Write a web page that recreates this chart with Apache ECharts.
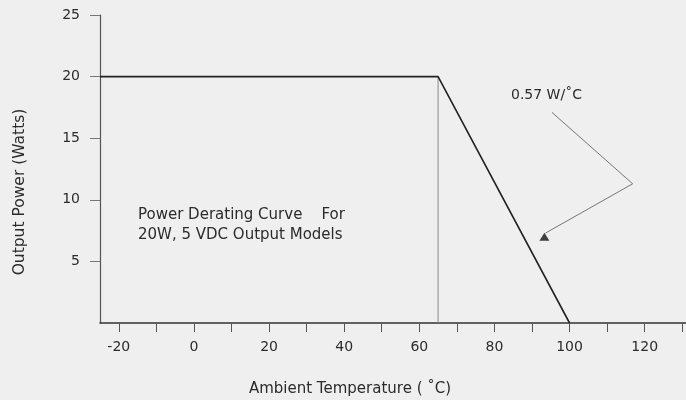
<!DOCTYPE html>
<html>
<head>
<meta charset="utf-8">
<script src="https://cdn.jsdelivr.net/npm/echarts@6/dist/echarts.min.js"></script>
<style>
html,body{margin:0;padding:0;background:#efefef;}
#chart{width:686px;height:400px;}
</style>
</head>
<body>
<div id="chart"></div>
<script>
// Derating curve (ambient temperature °C, output power W)
const curveTemp = [-25, 65, 100];
const curvePower = [20, 20, 0];
// Vertical marker at the derating knee
const kneeTemp = [65, 65];
const kneePower = [0, 20];
// Leader line for the slope annotation
const leaderTemp = [95.3, 116.8, 93.6];
const leaderPower = [17.1, 11.3, 7.3];
const arrowTip = [93.3, 7.0];
// Axis ticks and labels
const xLabelValues = [-20, 0, 20, 40, 60, 80, 100, 120];
const xTickValues = [-20, -10, 0, 10, 20, 30, 40, 50, 60, 70, 80, 90, 100, 110, 120, 130];
const yValues = [5, 10, 15, 20, 25];
// Texts
const xTitle = 'Ambient Temperature ( \u02DAC)';
const yTitle = 'Output Power (Watts)';
const slopeText = '0.57 W/\u02DAC';
const noteLines = ['Power Derating Curve    For', '20W, 5 VDC Output Models'];

const FONT = 'DejaVu Sans';
const TXT = '#2b2b2b';

const zip = (a, b) => a.map((v, i) => [v, b[i]]);

const chart = echarts.init(document.getElementById('chart'), null, {renderer: 'canvas'});
chart.setOption({
  backgroundColor: '#efefef',
  animation: false,
  grid: {left: 100, right: 0, top: 15, bottom: 77, containLabel: false},
  xAxis: {
    type: 'value', min: -25, max: 131,
    axisLine: {show: true, onZero: false, lineStyle: {color: '#333', width: 1.5}},
    axisTick: {show: true, length: 9, customValues: xTickValues, lineStyle: {color: '#555', width: 1}},
    axisLabel: {customValues: xLabelValues, margin: 17, fontFamily: FONT, fontSize: 14, color: TXT},
    splitLine: {show: false}
  },
  yAxis: {
    type: 'value', min: 0, max: 25,
    axisLine: {show: true, onZero: false, lineStyle: {color: '#555', width: 1.2}},
    axisTick: {show: true, length: 10, customValues: yValues, lineStyle: {color: '#777', width: 1}},
    axisLabel: {customValues: yValues, margin: 20, fontFamily: FONT, fontSize: 14, color: TXT},
    splitLine: {show: false}
  },
  series: [
    {
      type: 'line', data: zip(kneeTemp, kneePower), symbol: 'none',
      lineStyle: {color: '#8a8a8a', width: 1}, z: 2
    },
    {
      type: 'line', data: zip(curveTemp, curvePower), symbol: 'none',
      lineStyle: {color: '#222', width: 1.6}, z: 3
    },
    {
      type: 'line', data: zip(leaderTemp, leaderPower), symbol: 'none',
      lineStyle: {color: '#555', width: 0.8}, z: 3
    },
    {
      type: 'scatter', data: [arrowTip], symbol: 'triangle', symbolSize: [10, 8],
      itemStyle: {color: '#111'}, z: 4
    }
  ],
  graphic: [
    {type: 'text', x: 20, y: 192, rotation: Math.PI / 2,
      style: {text: yTitle, font: '15.5px "' + FONT + '"', fill: TXT, align: 'center', verticalAlign: 'middle'}},
    {type: 'text', x: 350, y: 389,
      style: {text: xTitle, font: '15px "' + FONT + '"', fill: TXT, align: 'center', verticalAlign: 'middle'}},
    {type: 'text', x: 511, y: 95,
      style: {text: slopeText, font: '14px "' + FONT + '"', fill: TXT, align: 'left', verticalAlign: 'middle'}},
    {type: 'text', x: 138, y: 215,
      style: {text: noteLines[0], font: '15px "' + FONT + '"', fill: TXT, align: 'left', verticalAlign: 'middle'}},
    {type: 'text', x: 138, y: 235,
      style: {text: noteLines[1], font: '15px "' + FONT + '"', fill: TXT, align: 'left', verticalAlign: 'middle'}}
  ]
});
</script>
</body>
</html>
